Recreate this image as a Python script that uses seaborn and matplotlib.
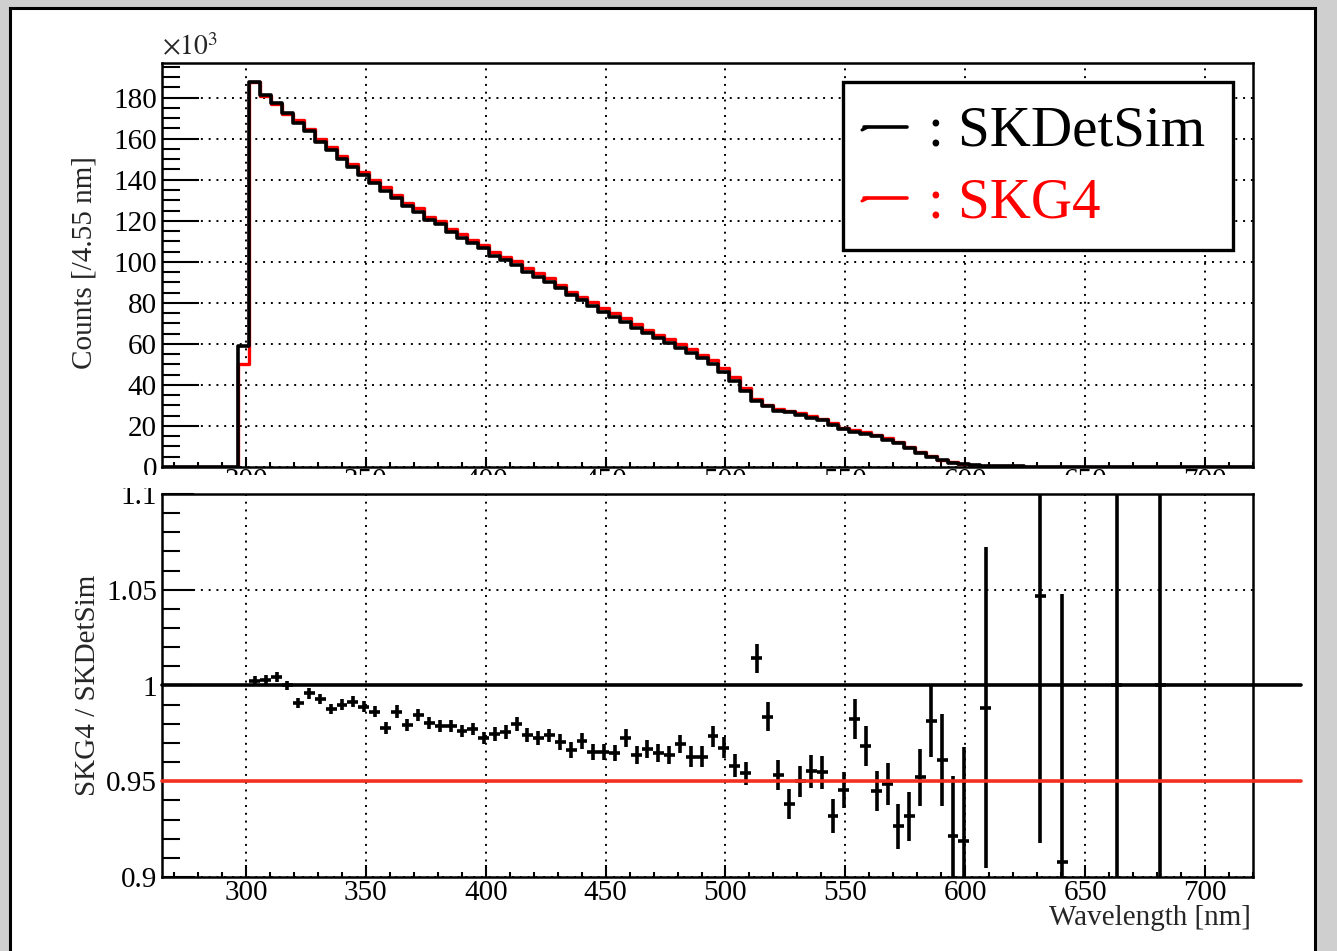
import numpy as np
import pandas as pd
import matplotlib
matplotlib.use("Agg")
import matplotlib.pyplot as plt
import seaborn as sns
from matplotlib.patches import Rectangle
from matplotlib.lines import Line2D
from matplotlib.ticker import MultipleLocator, FuncFormatter

# ---------------- data ----------------
x_min, x_max, n_bins = 265.0, 720.0, 100

# SKDetSim counts (x10^3) per 4.55 nm bin
skdetsim = [0, 0, 0, 0, 0, 0, 0, 59.0, 187.6, 181.5,
            177.4, 172.3, 167.7, 163.6, 158.4, 154.4, 149.9, 146.3, 142.2, 138.5,
            134.5, 130.9, 127.2, 124.4, 120.3, 118.2, 114.4, 111.7, 109.0, 106.6,
            102.8, 100.9, 98.4, 95.2, 92.8, 90.3, 87.1, 83.8, 81.4, 78.5,
            75.7, 73.3, 70.9, 67.9, 65.2, 62.8, 60.6, 58.2, 55.8, 53.0,
            50.3, 46.5, 42.1, 36.8, 32.3, 29.5, 27.5, 26.6, 25.4, 24.1,
            22.7, 20.6, 18.5, 17.3, 16.2, 14.9, 13.3, 11.7, 9.2, 6.8,
            4.9, 3.2, 1.9, 1.4, 1.0, 0.6, 0.4, 0.3, 0.25, 0.2,
            0.15, 0.12, 0.1, 0.08, 0.07, 0.06, 0.05, 0.05, 0.04, 0.04,
            0.03, 0.03, 0.02, 0.02, 0.02, 0.01, 0.01, 0.01, 0.01, 0.01]

# SKG4 counts (x10^3)
skg4 = [0, 0, 0, 0, 0, 0, 0, 50.3, 187.6, 180.6,
        176.8, 172.0, 169.2, 164.6, 160.0, 155.9, 151.4, 147.6, 143.7, 140.0,
        136.3, 132.6, 128.8, 126.0, 122.0, 119.8, 116.2, 113.4, 110.8, 108.2,
        104.6, 102.5, 100.2, 97.0, 94.5, 92.0, 88.8, 85.5, 83.0, 80.2,
        77.4, 75.0, 72.6, 69.6, 67.0, 64.4, 62.2, 59.8, 57.4, 54.6,
        52.0, 48.2, 44.0, 38.5, 33.2, 30.2, 28.4, 27.5, 26.4, 25.0,
        23.6, 21.6, 19.2, 17.9, 16.9, 15.6, 14.1, 12.4, 9.9, 7.4,
        5.4, 3.6, 2.2, 1.6, 1.1, 0.7, 0.45, 0.33, 0.27, 0.21,
        0.16, 0.12, 0.1, 0.08, 0.07, 0.06, 0.05, 0.05, 0.04, 0.04,
        0.03, 0.03, 0.02, 0.02, 0.02, 0.01, 0.01, 0.01, 0.01, 0.01]

nan = np.nan
# SKG4 / SKDetSim ratio per bin
ratio = [nan, nan, nan, nan, nan, nan, nan, nan, 1.0026, 1.0030,
         1.0045, 1.0000, 0.9908, 0.9960, 0.9930, 0.9877, 0.9900, 0.9916, 0.9890, 0.9864,
         0.9777, 0.9864, 0.9795, 0.9847, 0.9803, 0.9790, 0.9790, 0.9763, 0.9774, 0.9725,
         0.9748, 0.9757, 0.9800, 0.9743, 0.9725, 0.9739, 0.9704, 0.9664, 0.9708, 0.9655,
         0.9655, 0.9646, 0.9728, 0.9638, 0.9668, 0.9650, 0.9638, 0.9695, 0.9629, 0.9629,
         0.9734, 0.9676, 0.9582, 0.9541, 1.0143, 0.9838, 0.9534, 0.9380, 0.9499, 0.9551,
         0.9546, 0.9320, 0.9455, 0.9826, 0.9685, 0.9450, 0.9487, 0.9264, 0.9316, 0.9520,
         0.9816, 0.9612, 0.9215, 0.9190, nan, 0.9885, nan, nan, nan, nan,
         1.0468, nan, 0.9077, nan, nan, nan, nan, 1.0000, nan, nan,
         nan, 1.0000, nan, nan, nan, nan, nan, nan, nan, nan]

ratio_err = [nan, nan, nan, nan, nan, nan, nan, nan, 0.0025, 0.0025,
             0.0025, 0.0025, 0.0025, 0.0028, 0.0028, 0.0028, 0.0028, 0.0028, 0.0028, 0.0028,
             0.0032, 0.0032, 0.0032, 0.0032, 0.0032, 0.0032, 0.0032, 0.0032, 0.0032, 0.0032,
             0.0036, 0.0036, 0.0036, 0.0036, 0.0036, 0.0036, 0.0042, 0.0042, 0.0042, 0.0042,
             0.0042, 0.0042, 0.0047, 0.0047, 0.0047, 0.0047, 0.0047, 0.0047, 0.0053, 0.0053,
             0.0053, 0.0053, 0.0062, 0.0062, 0.0076, 0.0078, 0.0078, 0.0078, 0.0081, 0.0084,
             0.0087, 0.0089, 0.0094, 0.0103, 0.0104, 0.0106, 0.0110, 0.0117, 0.0128, 0.0150,
             0.0190, 0.0240, 0.0310, 0.0490, nan, 0.0840, nan, nan, nan, nan,
             0.1290, nan, 0.1400, nan, nan, nan, nan, 0.5000, nan, nan,
             nan, 0.5000, nan, nan, nan, nan, nan, nan, nan, nan]

ref_lines = [1.0, 0.95]
ref_colors = ["black", "#f3301f"]
ref_line_end = 740.0

x_major = 50
# ---------------- figure ----------------
W, H = 1337, 951
def fx(px): return px / W
def fy(py): return 1 - py / H

sns.set_theme(style="white")
plt.rcParams["font.family"] = ["Liberation Serif", "DejaVu Serif"]
plt.rcParams["mathtext.fontset"] = "stix"

edges = np.linspace(x_min, x_max, n_bins + 1)
centers = 0.5 * (edges[:-1] + edges[1:])
half_w = 0.5 * (edges[1] - edges[0])
df = pd.DataFrame({"wl": centers, "SKDetSim": skdetsim, "SKG4": skg4,
                   "ratio": ratio, "err": ratio_err})

fig = plt.figure(figsize=(W / 100, H / 100), dpi=100)
fig.patch.set_facecolor("#cfcfcf")
fig.add_artist(Rectangle((fx(10), -0.02), (1315 - 10) / W, (951 - 8) / H + 0.02,
                         transform=fig.transFigure, facecolor="white",
                         edgecolor="black", linewidth=2.2, zorder=-10))

ax1 = fig.add_axes([fx(162), fy(467), (1253 - 162) / W, (467 - 63) / H])
ax2 = fig.add_axes([fx(162), fy(877), (1253 - 162) / W, (877 - 494) / H])

sns.histplot(data=df, x="wl", weights="SKG4", bins=n_bins, binrange=(x_min, x_max),
             element="step", fill=False, color="#ff0000", linewidth=2.4, ax=ax1)
sns.histplot(data=df, x="wl", weights="SKDetSim", bins=n_bins, binrange=(x_min, x_max),
             element="step", fill=False, color="black", linewidth=2.6, ax=ax1)

ok = df.dropna()
ax2.errorbar(ok["wl"], ok["ratio"], xerr=half_w, yerr=ok["err"], fmt="none",
             ecolor="black", elinewidth=2.6, capsize=0, zorder=3)
for v, c in zip(ref_lines, ref_colors):
    ax2.plot([x_min, ref_line_end], [v, v], color=c, lw=2.6, clip_on=False, zorder=4)

ax1.set_xlim(x_min, x_max)
ax2.set_xlim(x_min, x_max)
ax1.set_ylim(0, 196.9)
ax2.set_ylim(0.9, 1.1)

for ax in (ax1, ax2):
    ax.set_facecolor("none")
    ax.set_xlabel("")
    ax.set_ylabel("")
    for s in ax.spines.values():
        s.set_color("black")
        s.set_linewidth(1.8)
    ax.xaxis.set_major_locator(MultipleLocator(x_major))
    ax.xaxis.set_minor_locator(MultipleLocator(10))
    ax.grid(True, which="major", color="black", linestyle=(0, (1, 3)), linewidth=1.4)
    ax.tick_params(which="both", direction="in", top=False, right=False,
                   bottom=True, left=True,
                   colors="black", labelsize=21, width=1.5)

ax1.yaxis.set_major_locator(MultipleLocator(20))
ax1.yaxis.set_minor_locator(MultipleLocator(5))
ax1.tick_params(axis="y", which="major", length=26.6, pad=3.6)
ax1.tick_params(axis="y", which="minor", length=13)
ax1.tick_params(axis="x", which="major", length=7.2, pad=1)
ax1.tick_params(axis="x", which="minor", length=3.6)

ax2.yaxis.set_major_locator(MultipleLocator(0.05))
ax2.yaxis.set_minor_locator(MultipleLocator(0.01))
ax2.yaxis.set_major_formatter(FuncFormatter(lambda v, p: "%g" % round(v, 3)))
ax2.tick_params(axis="y", which="major", length=23, pad=3.6)
ax2.tick_params(axis="y", which="minor", length=13)
ax2.tick_params(axis="x", which="major", length=8.6, pad=2)
ax2.tick_params(axis="x", which="minor", length=3.6)

# cover between pads (as in ROOT)
fig.add_artist(Rectangle((fx(13), fy(488)), (1312 - 13) / W, (488 - 475) / H,
                         transform=fig.transFigure, facecolor="white",
                         edgecolor="none", zorder=5))

fig.text(fx(85), fy(263), "Counts [/4.55 nm]", rotation=90, ha="center",
         va="center", fontsize=21)
fig.text(fx(88), fy(685), "SKG4 / SKDetSim", rotation=90, ha="center",
         va="center", fontsize=21)
fig.text(fx(1251), fy(918), "Wavelength [nm]", ha="right", va="center", fontsize=21)
fig.text(fx(162), fy(61), r"$\times10^{3}$", ha="left", va="bottom", fontsize=20)

# legend
fig.add_artist(Rectangle((fx(843), fy(250)), (1233 - 843) / W, (250 - 82) / H,
                         transform=fig.transFigure, facecolor="white",
                         edgecolor="black", linewidth=2.4, zorder=6))
for yy, ly, col, lab in [(131, 127, "black", ": SKDetSim"),
                         (204, 198, "#ff0000", ": SKG4")]:
    fig.add_artist(Line2D([fx(864), fx(907)], [fy(ly), fy(ly)],
                          transform=fig.transFigure, color=col, lw=2.6, zorder=7))
    fig.add_artist(Line2D([fx(862), fx(868)], [fy(ly + 3), fy(ly)],
                          transform=fig.transFigure, color=col, lw=2.2, zorder=7))
    fig.text(fx(928), fy(yy), lab, color=col, ha="left", va="center",
             fontsize=41, zorder=7)

fig.savefig("out.png", dpi=100, facecolor=fig.get_facecolor())
